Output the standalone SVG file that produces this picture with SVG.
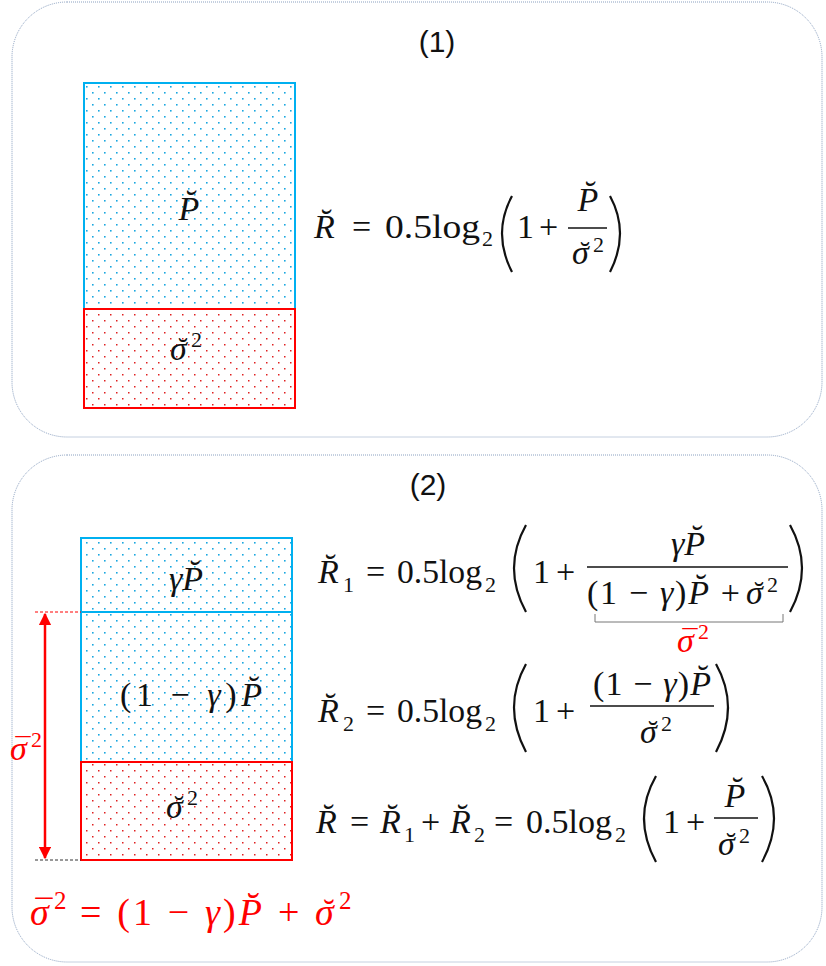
<svg xmlns="http://www.w3.org/2000/svg" width="826" height="966" viewBox="0 0 826 966">
<defs>
<pattern id="pb" width="12" height="12" patternUnits="userSpaceOnUse"><rect x="2" y="2" width="1.6" height="1.6" fill="#1aa7e0"/><rect x="8" y="8" width="1.6" height="1.6" fill="#1aa7e0"/></pattern>
<pattern id="pr" width="12" height="12" patternUnits="userSpaceOnUse"><rect x="2" y="2" width="1.5" height="1.5" fill="#e02020"/><rect x="8" y="8" width="1.5" height="1.5" fill="#e02020"/></pattern>
<marker id="ah" viewBox="0 0 10 10" refX="9" refY="5" markerWidth="5" markerHeight="5" orient="auto-start-reverse"><path d="M0,0L10,5L0,10z" fill="#ff0000"/></marker>
</defs>
<style>
.panel{fill:#fff;stroke:#8aa0c0;stroke-width:1;stroke-dasharray:1 1}
.b{fill:url(#pb);stroke:#00b0f0;stroke-width:2}
.r{fill:url(#pr);stroke:#ff0000;stroke-width:2}
.m{font-family:"Liberation Serif",serif;font-size:34px;fill:#111}
.i{font-style:italic}
.s{font-size:22px}
.a{font-family:"Liberation Serif",serif;font-size:30px;fill:#111;text-anchor:middle}
.t{font-family:"Liberation Sans",sans-serif;font-size:30px;fill:#111}
.par{fill:none;stroke:#111;stroke-width:2.2}
.fl{stroke:#111;stroke-width:1.5}
.red{fill:#ff0000}
</style>
<g id="panel1">
<rect class="panel" x="12" y="2" width="810" height="435" rx="55"/>
<text class="t" x="437" y="52" text-anchor="middle">(1)</text>
</g>
<g id="p1-signal"><rect class="b" x="84" y="83" width="211" height="226"/><text class="m i" x="189" y="220" text-anchor="middle">P̆</text></g>
<g id="p1-noise"><rect class="r" x="84" y="309" width="211" height="99"/>
<text class="m i" x="170" y="360">σ</text><text class="a" x="183" y="358">˘</text><text class="m s" x="191" y="347">2</text></g>
<g id="p1-formula">
<text class="m i" x="314" y="238">R̆</text>
<text class="m" x="352" y="238">=</text>
<text class="m" x="385" y="238" textLength="95" lengthAdjust="spacingAndGlyphs">0.5log</text>
<text class="m s" x="482" y="246">2</text>
<path class="par" d="M512,196 Q492,233 512,272"/>
<text class="m" x="517" y="238">1</text>
<text class="m" x="539" y="238">+</text>
<text class="m i" x="588" y="211" text-anchor="middle">P̆</text>
<line class="fl" x1="568" y1="228" x2="607" y2="228"/>
<text class="m i" x="572" y="264">σ</text><text class="a" x="585" y="262">˘</text><text class="m s" x="593" y="252">2</text>
<path class="par" d="M610,196 Q630,233 610,272"/>
</g>
<g id="panel2">
<rect class="panel" x="12" y="455" width="810" height="507" rx="55"/>
<text class="t" x="428" y="495" text-anchor="middle">(2)</text>
</g>
<g id="p2-gamma"><rect class="b" x="81" y="538" width="211" height="74"/><text class="m i" x="186" y="590" text-anchor="middle">γP̆</text></g>
<g id="p2-rest"><rect class="b" x="81" y="612" width="211" height="150"/><text class="m" x="120" y="706" textLength="142" lengthAdjust="spacing">(1 − <tspan class="i">γ</tspan>)<tspan class="i">P̆</tspan></text></g>
<g id="p2-noise"><rect class="r" x="81" y="762" width="211" height="98"/>
<text class="m i" x="166" y="818">σ</text><text class="a" x="179" y="816">˘</text><text class="m s" x="187" y="805">2</text></g>
<g id="connectors">
<line x1="35" y1="612" x2="81" y2="612" stroke="#ff0000" stroke-dasharray="3 2"/>
<line x1="35" y1="860" x2="81" y2="860" stroke="#333" stroke-dasharray="3 2"/>
<line x1="45" y1="614" x2="45" y2="858" stroke="#ff0000" stroke-width="2.5" marker-start="url(#ah)" marker-end="url(#ah)"/>
<path d="M595,614 V622 H783 V614" fill="none" stroke="#777" stroke-width="1"/>
</g>
<g id="p2-labels">
<text class="m i red" x="10" y="760">σ</text><text class="a red" x="23" y="758">¯</text><text class="m s red" x="31" y="747">2</text>
<text class="m i red" x="677" y="652">σ</text><text class="a red" x="690" y="650">¯</text><text class="m s red" x="698" y="639">2</text>
<text class="m i red" x="30" y="925" style="font-size:38px">σ</text><text class="a red" x="44" y="923" style="font-size:34px">¯</text><text class="m s red" x="54" y="909" style="font-size:25px">2</text>
<text class="m red" x="80" y="925" style="font-size:38px" textLength="182" lengthAdjust="spacing">= (1 − <tspan class="i">γ</tspan>)<tspan class="i">P̆</tspan></text>
<text class="m red" x="278" y="925" style="font-size:38px">+</text>
<text class="m i red" x="315" y="925" style="font-size:38px">σ</text><text class="a red" x="329" y="923" style="font-size:34px">˘</text><text class="m s red" x="339" y="909" style="font-size:25px">2</text>
</g>
<g id="p2-formula1">
<text class="m i" x="318" y="583">R̆</text><text class="m s" x="343" y="592">1</text>
<text class="m" x="366" y="583">=</text>
<text class="m" x="397" y="583" textLength="85" lengthAdjust="spacingAndGlyphs">0.5log</text>
<text class="m s" x="485" y="592">2</text>
<path class="par" d="M526,525 Q502,568 526,612"/>
<text class="m" x="533" y="583">1</text>
<text class="m" x="556" y="583">+</text>
<text class="m i" x="688" y="555" text-anchor="middle">γP̆</text>
<line class="fl" x1="587" y1="567" x2="788" y2="567"/>
<text class="m" x="587" y="604" textLength="153" lengthAdjust="spacing">(1 − <tspan class="i">γ</tspan>)<tspan class="i">P̆</tspan> +</text>
<text class="m i" x="746" y="604">σ</text><text class="a" x="759" y="602">˘</text><text class="m s" x="767" y="592">2</text>
<path class="par" d="M790,525 Q814,568 790,612"/>
</g>
<g id="p2-formula2">
<text class="m i" x="318" y="722">R̆</text><text class="m s" x="343" y="731">2</text>
<text class="m" x="366" y="722">=</text>
<text class="m" x="397" y="722" textLength="85" lengthAdjust="spacingAndGlyphs">0.5log</text>
<text class="m s" x="485" y="731">2</text>
<path class="par" d="M526,664 Q502,707 526,752"/>
<text class="m" x="533" y="722">1</text>
<text class="m" x="556" y="722">+</text>
<text class="m" x="593" y="695" textLength="118" lengthAdjust="spacing">(1 − <tspan class="i">γ</tspan>)<tspan class="i">P̆</tspan></text>
<line class="fl" x1="590" y1="706" x2="714" y2="706"/>
<text class="m i" x="640" y="743">σ</text><text class="a" x="653" y="741">˘</text><text class="m s" x="661" y="731">2</text>
<path class="par" d="M716,664 Q740,707 716,752"/>
</g>
<g id="p2-formula3">
<text class="m i" x="316" y="833">R̆</text>
<text class="m" x="350" y="833">=</text>
<text class="m i" x="380" y="833">R̆</text><text class="m s" x="404" y="842">1</text>
<text class="m" x="421" y="833">+</text>
<text class="m i" x="450" y="833">R̆</text><text class="m s" x="474" y="842">2</text>
<text class="m" x="494" y="833">=</text>
<text class="m" x="526" y="833" textLength="86" lengthAdjust="spacingAndGlyphs">0.5log</text>
<text class="m s" x="615" y="842">2</text>
<path class="par" d="M656,776 Q632,818 656,862"/>
<text class="m" x="663" y="833">1</text>
<text class="m" x="686" y="833">+</text>
<text class="m i" x="735" y="807" text-anchor="middle">P̆</text>
<line class="fl" x1="714" y1="818" x2="758" y2="818"/>
<text class="m i" x="718" y="855">σ</text><text class="a" x="731" y="853">˘</text><text class="m s" x="739" y="843">2</text>
<path class="par" d="M762,776 Q786,818 762,862"/>
</g>
</svg>
